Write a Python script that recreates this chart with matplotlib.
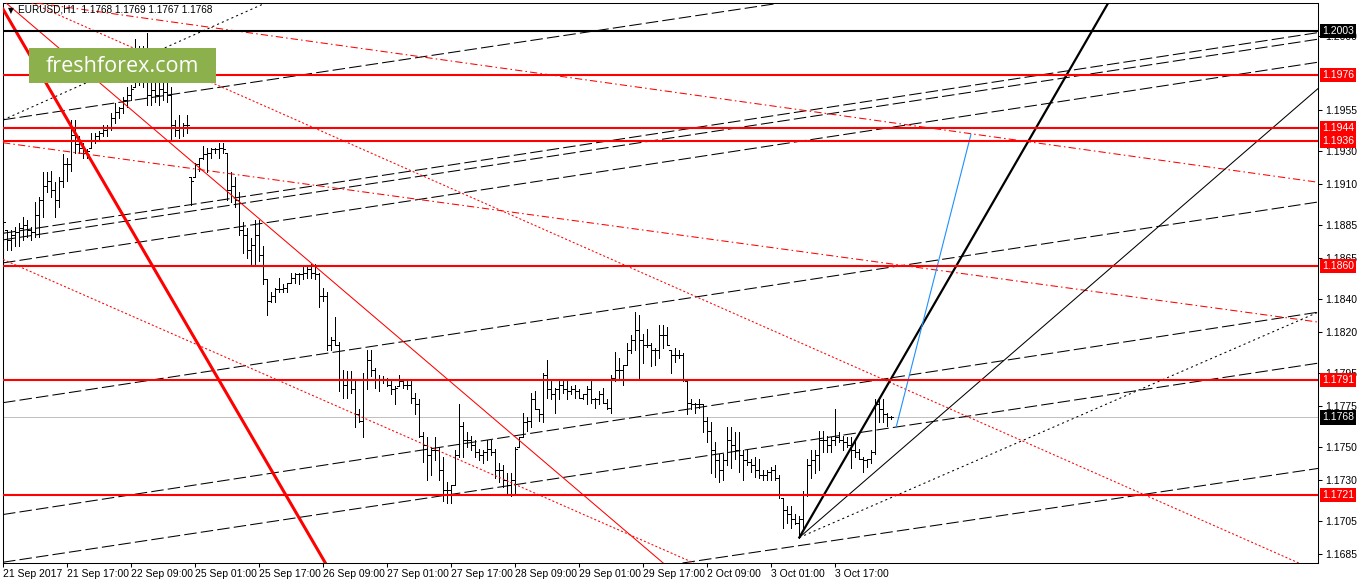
import numpy as np
import matplotlib.pyplot as plt
from matplotlib.collections import LineCollection
from matplotlib.patches import Rectangle
from matplotlib import transforms

plt.rcParams['font.family'] = ['Liberation Sans', 'DejaVu Sans']
plt.rcParams['font.size'] = 7.5

# EURUSD H1 bars (bar 0 = 21 Sep 2017 01:00)
highs = [
    1.1895, 1.1882, 1.1882, 1.1884, 1.1886, 1.1890, 1.1888, 1.1884, 1.1899, 1.1902,
    1.1917, 1.1917, 1.1918, 1.1911, 1.1914, 1.1928, 1.1926, 1.1949, 1.1949, 1.1939,
    1.1935, 1.1931, 1.1941, 1.1941, 1.1942, 1.1946, 1.1946, 1.1953, 1.1959, 1.1957,
    1.1963, 1.1969, 1.1970, 1.1998, 1.1994, 1.1994, 1.2002, 1.1974, 1.1973, 1.1973,
    1.1972, 1.1973, 1.1969, 1.1949, 1.1952, 1.1947, 1.1952, 1.1914, 1.1923, 1.1926,
    1.1933, 1.1932, 1.1932, 1.1932, 1.1935, 1.1935, 1.1929, 1.1917, 1.1914, 1.1905,
    1.1887, 1.1883, 1.1877, 1.1888, 1.1888, 1.1872, 1.1852, 1.1844, 1.1847, 1.1853,
    1.1849, 1.1850, 1.1856, 1.1856, 1.1856, 1.1860, 1.1860, 1.1861, 1.1861, 1.1856,
    1.1847, 1.1844, 1.1817, 1.1829, 1.1814, 1.1797, 1.1796, 1.1796, 1.1790, 1.1773,
    1.1795, 1.1809, 1.1809, 1.1798, 1.1794, 1.1793, 1.1792, 1.1790, 1.1787, 1.1794,
    1.1791, 1.1791, 1.1791, 1.1783, 1.1779, 1.1759, 1.1756, 1.1750, 1.1756, 1.1750,
    1.1744, 1.1729, 1.1727, 1.1748, 1.1776, 1.1765, 1.1759, 1.1757, 1.1754, 1.1749,
    1.1748, 1.1754, 1.1754, 1.1749, 1.1740, 1.1739, 1.1734, 1.1734, 1.1750, 1.1756,
    1.1771, 1.1768, 1.1783, 1.1784, 1.1773, 1.1795, 1.1803, 1.1791, 1.1786, 1.1790,
    1.1791, 1.1791, 1.1787, 1.1788, 1.1785, 1.1782, 1.1787, 1.1790, 1.1780, 1.1784,
    1.1786, 1.1779, 1.1794, 1.1808, 1.1804, 1.1800, 1.1813, 1.1818, 1.1832, 1.1830,
    1.1819, 1.1822, 1.1813, 1.1810, 1.1824, 1.1824, 1.1823, 1.1809, 1.1810, 1.1809,
    1.1807, 1.1790, 1.1779, 1.1777, 1.1779, 1.1776, 1.1768, 1.1765, 1.1753, 1.1746,
    1.1746, 1.1762, 1.1762, 1.1759, 1.1759, 1.1748, 1.1748, 1.1743, 1.1744, 1.1743,
    1.1736, 1.1736, 1.1738, 1.1739, 1.1733, 1.1719, 1.1714, 1.1714, 1.1709, 1.1708,
    1.1723, 1.1743, 1.1748, 1.1748, 1.1760, 1.1760, 1.1757, 1.1756, 1.1773, 1.1759,
    1.1757, 1.1756, 1.1756, 1.1753, 1.1749, 1.1744, 1.1743, 1.1748, 1.1779, 1.1779,
    1.1779, 1.1771, 1.1769,
]
lows = [
    1.1885, 1.1870, 1.1870, 1.1872, 1.1872, 1.1876, 1.1878, 1.1876, 1.1878, 1.1878,
    1.1890, 1.1905, 1.1902, 1.1890, 1.1896, 1.1908, 1.1912, 1.1918, 1.1929, 1.1929,
    1.1926, 1.1926, 1.1932, 1.1935, 1.1937, 1.1939, 1.1939, 1.1943, 1.1947, 1.1950,
    1.1953, 1.1957, 1.1961, 1.1969, 1.1970, 1.1969, 1.1958, 1.1958, 1.1960, 1.1958,
    1.1961, 1.1960, 1.1936, 1.1939, 1.1938, 1.1939, 1.1941, 1.1897, 1.1914, 1.1918,
    1.1925, 1.1917, 1.1926, 1.1929, 1.1926, 1.1929, 1.1900, 1.1899, 1.1896, 1.1879,
    1.1868, 1.1865, 1.1861, 1.1860, 1.1863, 1.1849, 1.1830, 1.1838, 1.1838, 1.1844,
    1.1844, 1.1844, 1.1850, 1.1850, 1.1849, 1.1852, 1.1853, 1.1853, 1.1852, 1.1835,
    1.1839, 1.1809, 1.1809, 1.1812, 1.1784, 1.1780, 1.1780, 1.1783, 1.1762, 1.1765,
    1.1756, 1.1785, 1.1793, 1.1786, 1.1784, 1.1789, 1.1787, 1.1782, 1.1776, 1.1787,
    1.1786, 1.1785, 1.1777, 1.1770, 1.1756, 1.1741, 1.1730, 1.1733, 1.1742, 1.1730,
    1.1717, 1.1716, 1.1716, 1.1727, 1.1744, 1.1744, 1.1750, 1.1748, 1.1744, 1.1742,
    1.1740, 1.1742, 1.1745, 1.1731, 1.1729, 1.1726, 1.1722, 1.1720, 1.1722, 1.1750,
    1.1756, 1.1760, 1.1762, 1.1773, 1.1766, 1.1765, 1.1780, 1.1779, 1.1771, 1.1779,
    1.1783, 1.1779, 1.1782, 1.1780, 1.1780, 1.1779, 1.1776, 1.1777, 1.1774, 1.1776,
    1.1777, 1.1773, 1.1771, 1.1790, 1.1792, 1.1788, 1.1800, 1.1807, 1.1809, 1.1791,
    1.1801, 1.1811, 1.1799, 1.1800, 1.1804, 1.1810, 1.1812, 1.1795, 1.1802, 1.1804,
    1.1790, 1.1770, 1.1773, 1.1771, 1.1774, 1.1759, 1.1753, 1.1734, 1.1732, 1.1729,
    1.1730, 1.1739, 1.1737, 1.1743, 1.1735, 1.1730, 1.1739, 1.1735, 1.1732, 1.1731,
    1.1730, 1.1730, 1.1730, 1.1730, 1.1719, 1.1701, 1.1704, 1.1701, 1.1703, 1.1695,
    1.1701, 1.1720, 1.1731, 1.1734, 1.1736, 1.1747, 1.1747, 1.1747, 1.1751, 1.1753,
    1.1748, 1.1750, 1.1737, 1.1744, 1.1743, 1.1735, 1.1738, 1.1740, 1.1746, 1.1765,
    1.1765, 1.1763, 1.1767,
]
closes = [
    1.1887, 1.1876, 1.1879, 1.1881, 1.1883, 1.1885, 1.1882, 1.1881, 1.1891, 1.1900,
    1.1909, 1.1912, 1.1906, 1.1900, 1.1912, 1.1922, 1.1922, 1.1940, 1.1934, 1.1932,
    1.1929, 1.1930, 1.1937, 1.1939, 1.1941, 1.1943, 1.1944, 1.1950, 1.1954, 1.1956,
    1.1961, 1.1964, 1.1968, 1.1979, 1.1985, 1.1991, 1.1964, 1.1967, 1.1964, 1.1968,
    1.1966, 1.1964, 1.1946, 1.1943, 1.1944, 1.1946, 1.1946, 1.1912, 1.1922, 1.1926,
    1.1928, 1.1929, 1.1931, 1.1931, 1.1932, 1.1931, 1.1906, 1.1909, 1.1900, 1.1882,
    1.1879, 1.1870, 1.1873, 1.1879, 1.1867, 1.1852, 1.1839, 1.1842, 1.1846, 1.1846,
    1.1847, 1.1850, 1.1853, 1.1855, 1.1855, 1.1856, 1.1858, 1.1856, 1.1855, 1.1842,
    1.1842, 1.1812, 1.1815, 1.1812, 1.1791, 1.1788, 1.1791, 1.1785, 1.1770, 1.1766,
    1.1791, 1.1803, 1.1797, 1.1791, 1.1791, 1.1791, 1.1788, 1.1785, 1.1786, 1.1790,
    1.1788, 1.1788, 1.1780, 1.1776, 1.1757, 1.1751, 1.1745, 1.1748, 1.1748, 1.1736,
    1.1724, 1.1724, 1.1727, 1.1745, 1.1763, 1.1754, 1.1754, 1.1751, 1.1747, 1.1745,
    1.1747, 1.1749, 1.1747, 1.1736, 1.1736, 1.1730, 1.1727, 1.1730, 1.1749, 1.1756,
    1.1765, 1.1766, 1.1779, 1.1773, 1.1770, 1.1794, 1.1785, 1.1782, 1.1785, 1.1788,
    1.1785, 1.1784, 1.1785, 1.1784, 1.1780, 1.1782, 1.1785, 1.1779, 1.1779, 1.1782,
    1.1777, 1.1774, 1.1792, 1.1797, 1.1797, 1.1800, 1.1809, 1.1815, 1.1821, 1.1815,
    1.1812, 1.1812, 1.1809, 1.1809, 1.1818, 1.1818, 1.1812, 1.1806, 1.1806, 1.1806,
    1.1791, 1.1777, 1.1776, 1.1776, 1.1776, 1.1766, 1.1760, 1.1748, 1.1742, 1.1736,
    1.1742, 1.1754, 1.1751, 1.1748, 1.1745, 1.1742, 1.1741, 1.1739, 1.1736, 1.1733,
    1.1733, 1.1735, 1.1736, 1.1731, 1.1721, 1.1712, 1.1709, 1.1706, 1.1704, 1.1706,
    1.1721, 1.1739, 1.1742, 1.1745, 1.1754, 1.1754, 1.1751, 1.1754, 1.1756, 1.1754,
    1.1753, 1.1751, 1.1748, 1.1747, 1.1743, 1.1742, 1.1743, 1.1747, 1.1776, 1.1773,
    1.1770, 1.1768, 1.1768,
]

date_labels = ['21 Sep 2017', '21 Sep 17:00', '22 Sep 09:00', '25 Sep 01:00',
               '25 Sep 17:00', '26 Sep 09:00', '27 Sep 01:00', '27 Sep 17:00',
               '28 Sep 09:00', '29 Sep 01:00', '29 Sep 17:00', '2 Oct 09:00',
               '3 Oct 01:00', '3 Oct 17:00']
date_bars = [0, 16, 32, 48, 64, 80, 96, 112, 128, 144, 160, 176, 192, 208]

price_ticks = [1.2000, 1.1955, 1.1930, 1.1910, 1.1885, 1.1865, 1.1840, 1.1820,
               1.1795, 1.1775, 1.1750, 1.1730, 1.1705, 1.1685]

red_levels = [1.1976, 1.1944, 1.1936, 1.1860, 1.1791, 1.1721]
black_level = 1.2003
bid = 1.1768

# trend lines as two (bar, price) anchors
channel_dashed = [
    [(0, 1.1949), (164.2, 1.2009)],
    [(0, 1.1880), (328.7, 1.2002)],
    [(0, 1.1876), (328.7, 1.1998)],
    [(0, 1.1862), (328.7, 1.1984)],
    [(0, 1.1777), (328.7, 1.1899)],
    [(0, 1.1709), (328.7, 1.1832)],
    [(0, 1.1680), (328.7, 1.1801)],
    [(171.2, 1.1680), (328.7, 1.1737)],
]
red_dashdot = [
    [(2.4, 1.2022), (328.7, 1.1911)],
    [(0, 1.1935), (328.7, 1.1826)],
]
red_dotted = [
    [(0, 1.1864), (172.2, 1.1680)],
    [(5.2, 1.2022), (323.4, 1.1680)],
]
red_thick = [(0, 1.2016), (80.4, 1.1680)]
red_thin = [(77.4, 1.1861), (151.7, 1.1707)]
black_dotted_top = [(0, 1.1949), (67.4, 1.2022)]

fan_origin = (199, 1.1695)
fan_thick = (276.7, 1.2022)
fan_thin = (328.7, 1.1968)
fan_dotted = (328.7, 1.1832)
blue_seg = [(223.2, 1.1762), (241.9, 1.1940)]

# ---------------------------------------------------------------
W, H = 1358, 584
fig = plt.figure(figsize=(W / 100, H / 100), dpi=100)
ax = fig.add_axes([3 / W, 21 / H, 1315 / W, 560 / H])

x = np.arange(len(highs))
hi = np.array(highs)
lo = np.array(lows)
cl = np.array(closes)
op = np.clip(np.r_[cl[0], cl[:-1]], lo, hi)

ax.axhline(bid, color='#c0c0c0', lw=0.72, zorder=1)

segs = [[(i, l), (i, h)] for i, l, h in zip(x, lo, hi)]
segs += [[(i - 0.45, o), (i, o)] for i, o in zip(x, op)]
segs += [[(i, c), (i + 0.45, c)] for i, c in zip(x, cl)]
ax.add_collection(LineCollection(segs, colors='black', linewidths=0.72,
                                 antialiased=False, zorder=2))


def ray(p0, p1, **kw):
    k = (p1[1] - p0[1]) / (p1[0] - p0[0])
    ax.plot([p0[0], 400], [p0[1], p0[1] + k * (400 - p0[0])], **kw)


for a, b in channel_dashed:
    ax.axline(a, b, color='black', lw=0.75, ls=(0, (12, 4)), zorder=3)
for a, b in red_dashdot:
    ax.axline(a, b, color='red', lw=0.75, ls=(0, (7, 3, 1.5, 3)), zorder=3)
for a, b in red_dotted:
    ax.axline(a, b, color='red', lw=0.75, ls=(0, (2, 2)), zorder=3)
ax.axline(*black_dotted_top, color='black', lw=0.75, ls=(0, (2, 3)), zorder=3)
ax.axline(*red_thick, color='red', lw=2.2, zorder=3)
ax.axline(*red_thin, color='red', lw=0.75, zorder=3)

ray(fan_origin, fan_thick, color='black', lw=1.6, zorder=4)
ray(fan_origin, fan_thin, color='black', lw=0.75, zorder=4)
ray(fan_origin, fan_dotted, color='black', lw=0.75, ls=(0, (2, 3)), zorder=4)
ax.plot(*zip(*blue_seg), color='#1e90ff', lw=0.8, zorder=4)

for lv in red_levels:
    ax.axhline(lv, color='red', lw=1.5, zorder=4)
ax.axhline(black_level, color='black', lw=1.5, zorder=4)

ax.set_xlim(-0.075, 328.68)
ax.set_ylim(1.16795, 1.20200)

ax.yaxis.tick_right()
ax.set_yticks(price_ticks)
ax.set_yticklabels(['%.4f' % p for p in price_ticks])
ax.set_xticks(date_bars)
ax.set_xticklabels(date_labels, ha='left')
ax.tick_params(axis='both', direction='out', length=3, width=0.75,
               labelsize=7.5, colors='black')
ax.tick_params(axis='y', pad=2)
ax.tick_params(axis='x', pad=1.5)
for s in ax.spines.values():
    s.set_linewidth(0.75)
    s.set_color('black')

# price tags on the right scale
tag = transforms.offset_copy(
    transforms.blended_transform_factory(ax.transAxes, ax.transData),
    fig=fig, x=4, y=0, units='dots')
for lv in red_levels:
    ax.text(1.0, lv, '%.4f' % lv, transform=tag, ha='left', va='center',
            color='white', clip_on=False, zorder=10,
            bbox=dict(boxstyle='square,pad=0.2', fc='red', ec='none'))
for lv in [black_level, bid]:
    ax.text(1.0, lv, '%.4f' % lv, transform=tag, ha='left', va='center',
            color='white', clip_on=False, zorder=10,
            bbox=dict(boxstyle='square,pad=0.2', fc='black', ec='none'))

# caption and logo
fig.text(8 / W, 1 - 11 / H, '\u25bc', fontsize=5.5, va='center',
         family=['DejaVu Sans'])
fig.text(18 / W, 1 - 10 / H, 'EURUSD,H1  1.1768 1.1769 1.1767 1.1768',
         fontsize=7.2, va='center')
fig.add_artist(Rectangle((29 / W, 1 - 83 / H), 187 / W, 35 / H,
                         transform=fig.transFigure, fc='#8cb04c', ec='none',
                         zorder=20))
fig.text(122.5 / W, 1 - 66 / H, 'freshforex.com', color='white', fontsize=15.5,
         ha='center', va='center', family=['Open Sans', 'DejaVu Sans'],
         zorder=21)

fig.savefig('out.png', dpi=100)
